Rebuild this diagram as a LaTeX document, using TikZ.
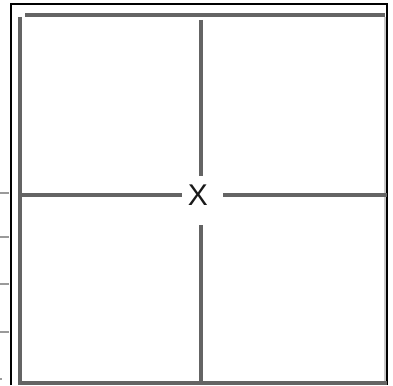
\documentclass[tikz,border=0pt]{standalone}
\usepackage{fontspec}
\setmainfont{Liberation Sans}
\definecolor{gridgray}{RGB}{100,100,100}
\tikzset{
  frameline/.style={draw=black, line width=1.1pt},
  gridline/.style={draw=gridgray, line width=3.6pt},
  faintline/.style={draw=gridgray!35, line width=1.6pt},
  tickmark/.style={draw=gridgray!65, line width=2pt},
  centerlabel/.style={font=\fontsize{30}{34}\selectfont, text=black!90, inner sep=0pt}
}
\begin{document}
\begin{tikzpicture}[x=1pt,y=-1pt]
\useasboundingbox (0,0) rectangle (393,385);
% thin black frame
\coordinate (ftl) at (11,4);
\coordinate (ftr) at (387,4);
\draw[frameline] (11,385) -- (ftl) -- (ftr) -- (387,385);
% gray square
\coordinate (gtl) at (20,17);
\coordinate (gbl) at (20,383);
\coordinate (gbr) at (387,383);
\draw[gridline] (25,15) -- (385,15);
\draw[gridline] (gtl) -- (gbl) -- (gbr);
\draw[faintline] (385,17) -- (385,381);
% centre label and cross
\node[centerlabel] (mark) at (198,195) {X};
\coordinate (vtop) at (201,176);
\coordinate (vbot) at (201,225);
\coordinate (hleft) at (182,195);
\coordinate (hright) at (223,195);
\draw[gridline] (201,20) -- (vtop);
\draw[gridline] (vbot) -- (201,383);
\draw[gridline] (20,195) -- (hleft);
\draw[gridline] (hright) -- (387,195);
% ticks on the left
\foreach \ty in {193,237,284,332} {
  \draw[tickmark] (0,\ty) -- (9,\ty);
}
\draw[tickmark] (0,379) -- (2,379);
\end{tikzpicture}
\end{document}
